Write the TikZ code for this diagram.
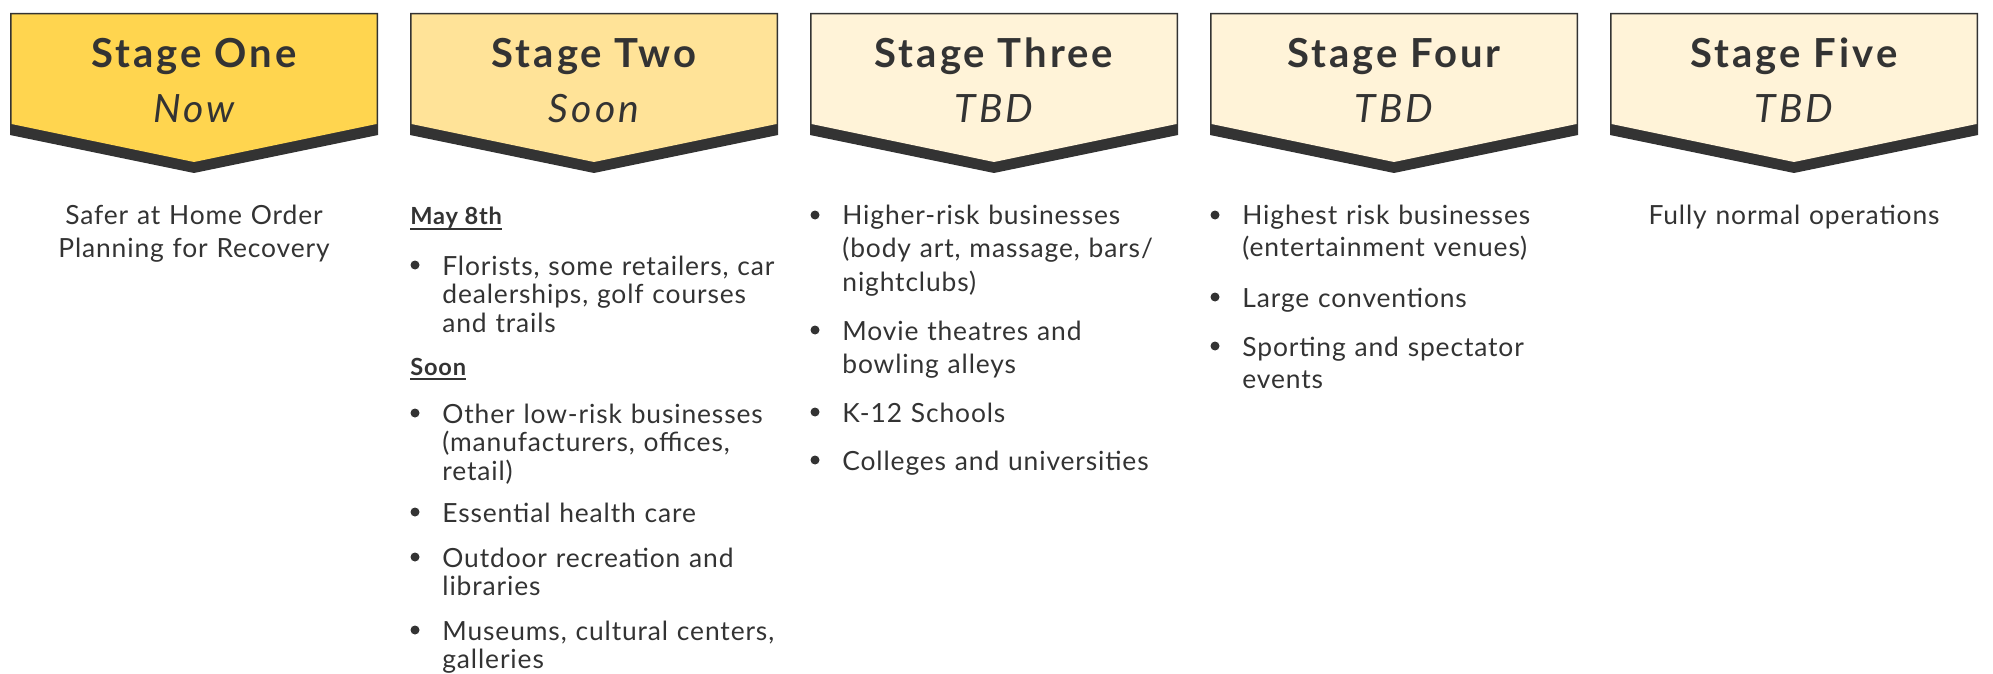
\documentclass[tikz,border=0pt]{standalone}
\usepackage{fontspec}
\setmainfont{Lato}[LetterSpace=3.3]
\newfontfamily\headfont{Lato}[LetterSpace=7.5]
\newfontfamily\whenfont{Lato}[LetterSpace=8]
\usetikzlibrary{positioning}
\definecolor{ink}{HTML}{333333}
\definecolor{gold}{HTML}{FFD54F}
\definecolor{sand}{HTML}{FFE398}
\definecolor{cream}{HTML}{FFF3D8}
\newcommand{\undl}[1]{\setbox0\hbox{#1}\rlap{\rule[-2.6pt]{\wd0}{0.9pt}}\box0}
\tikzstyle{rim} = [fill=ink]
\tikzstyle{stagehead} = [anchor=base, inner sep=0pt, text=ink, font=\headfont\fontsize{20}{22}\selectfont\bfseries]
\tikzstyle{stagewhen} = [anchor=base, inner sep=0pt, text=ink, font=\whenfont\fontsize{19.5}{21}\selectfont\itshape]
\tikzstyle{listitem} = [anchor=base west, inner sep=0pt, text=ink, text width=200pt, align=left, font=\fontsize{13.2}{16.5}\selectfont]
\tikzstyle{smallitem} = [listitem, font=\fontsize{13.2}{14.25}\selectfont]
\tikzstyle{listhead} = [anchor=base west, inner sep=0pt, text=ink, font=\fontsize{11.8}{14}\selectfont\bfseries]
\tikzstyle{plain} = [anchor=base, inner sep=0pt, text=ink, text width=200pt, align=center, font=\fontsize{13.2}{16.5}\selectfont]
\tikzstyle{bulletdot} = [circle, fill=ink, inner sep=0pt, minimum size=4.5pt]

\begin{document}
\begin{tikzpicture}[x=0.5pt, y=-0.5pt]
\useasboundingbox (0,0) rectangle (1993,674);

% stage banners
\fill [rim] (10,13) -- (378,13) -- (378,135) -- (194,173) -- (10,135) -- cycle;
\fill [gold] (11.5,14.5) -- (376.5,14.5) -- (376.5,124) -- (194,162) -- (11.5,124) -- cycle;
\fill [rim] (410,13) -- (778,13) -- (778,135) -- (594,173) -- (410,135) -- cycle;
\fill [sand] (411.5,14.5) -- (776.5,14.5) -- (776.5,124) -- (594,162) -- (411.5,124) -- cycle;
\fill [rim] (810,13) -- (1178,13) -- (1178,135) -- (994,173) -- (810,135) -- cycle;
\fill [cream] (811.5,14.5) -- (1176.5,14.5) -- (1176.5,124) -- (994,162) -- (811.5,124) -- cycle;
\fill [rim] (1210,13) -- (1578,13) -- (1578,135) -- (1394,173) -- (1210,135) -- cycle;
\fill [cream] (1211.5,14.5) -- (1576.5,14.5) -- (1576.5,124) -- (1394,162) -- (1211.5,124) -- cycle;
\fill [rim] (1610,13) -- (1978,13) -- (1978,135) -- (1794,173) -- (1610,135) -- cycle;
\fill [cream] (1611.5,14.5) -- (1976.5,14.5) -- (1976.5,124) -- (1794,162) -- (1611.5,124) -- cycle;

\node (one) [stagehead] at (194,68) {Stage One};
\node (two) [stagehead] at (594,68) {Stage Two};
\node (three) [stagehead] at (994,68) {Stage Three};
\node (four) [stagehead] at (1394,68) {Stage Four};
\node (five) [stagehead] at (1794,68) {Stage Five};
\node (now) [stagewhen] at (194,123) {Now};
\node (soon) [stagewhen] at (594,123) {Soon};
\node (tbdthree) [stagewhen] at (994,123) {TBD};
\node (tbdfour) [stagewhen] at (1394,123) {TBD};
\node (tbdfive) [stagewhen] at (1794,123) {TBD};

% stage one
\node (saferhome) [plain] at (194,225) {Safer at Home Order\\Planning for Recovery};

% stage two
\node (may) [listhead] at (410,225) {\undl{May 8th}};
\node (florists) [smallitem] at (442,275) {Florists, some retailers, car\\dealerships, golf courses\\and trails};
\node (soonhead) [listhead] at (410,375) {\undl{Soon}};
\node (lowrisk) [smallitem] at (442,423) {Other low-risk businesses\\(manufacturers, offices,\\retail)};
\node (health) [smallitem] at (442,522) {Essential health care};
\node (outdoor) [smallitem] at (442,567) {Outdoor recreation and\\libraries};
\node (museums) [smallitem] at (442,640) {Museums, cultural centers,\\galleries};
\node [bulletdot] at ([shift={(-27,-10)}]florists.base west) {};
\node [bulletdot] at ([shift={(-27,-10)}]lowrisk.base west) {};
\node [bulletdot] at ([shift={(-27,-10)}]health.base west) {};
\node [bulletdot] at ([shift={(-27,-10)}]outdoor.base west) {};
\node [bulletdot] at ([shift={(-27,-10)}]museums.base west) {};

% stage three
\node (higher) [listitem] at (842,225) {Higher-risk businesses\\(body art, massage, bars/\\nightclubs)};
\node (movie) [listitem] at (842,340) {Movie theatres and\\bowling alleys};
\node (schools) [listitem] at (842,422) {K-12 Schools};
\node (colleges) [listitem] at (842,470) {Colleges and universities};
\node [bulletdot] at ([shift={(-27,-10)}]higher.base west) {};
\node [bulletdot] at ([shift={(-27,-10)}]movie.base west) {};
\node [bulletdot] at ([shift={(-27,-10)}]schools.base west) {};
\node [bulletdot] at ([shift={(-27,-10)}]colleges.base west) {};

% stage four
\node (highest) [listitem, font=\fontsize{13.2}{16}\selectfont] at (1242,225) {Highest risk businesses\\(entertainment venues)};
\node (conventions) [listitem] at (1242,307) {Large conventions};
\node (sporting) [listitem, font=\fontsize{13.2}{16}\selectfont] at (1242,356) {Sporting and spectator\\events};
\node [bulletdot] at ([shift={(-27,-10)}]highest.base west) {};
\node [bulletdot] at ([shift={(-27,-10)}]conventions.base west) {};
\node [bulletdot] at ([shift={(-27,-10)}]sporting.base west) {};

% stage five
\node (normal) [plain] at (1794,225) {Fully normal operations};
\end{tikzpicture}
\end{document}
